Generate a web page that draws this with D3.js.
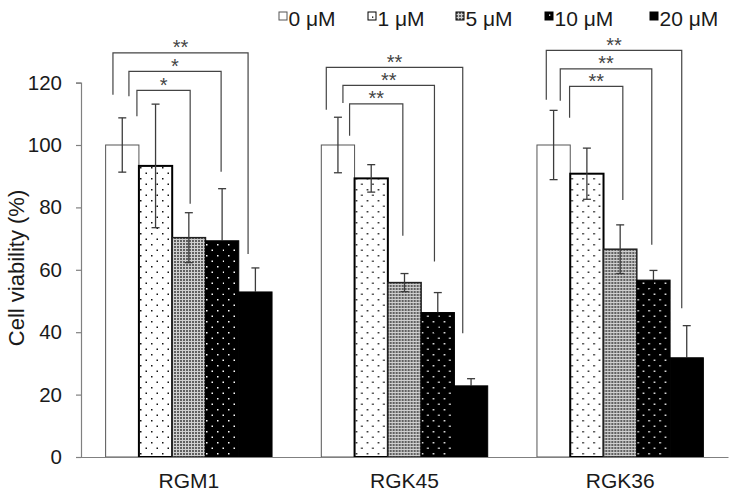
<!DOCTYPE html>
<html><head><meta charset="utf-8">
<script src="https://cdn.jsdelivr.net/npm/d3@7"></script>
<style>body{margin:0;background:#fff}svg{display:block}text{font-family:"Liberation Sans",Arial,sans-serif}</style>
</head><body><svg id="c" width="735" height="496"></svg>
<script>
// ---- data ----
const categories = ["RGM1", "RGK45", "RGK36"];
const seriesNames = ["0 μM", "1 μM", "5 μM", "10 μM", "20 μM"];
const v0  = [100, 100, 100];
const v1  = [93.3, 89.3, 90.8];
const v5  = [70.3, 55.9, 66.6];
const v10 = [69.3, 46.3, 56.7];
const v20 = [52.9, 22.8, 31.8];
const e0  = [8.7, 8.9, 11.1];
const e1  = [19.8, 4.4, 8.2];
const e5  = [8.0, 2.9, 7.8];
const e10 = [16.7, 6.4, 3.1];
const e20 = [7.7, 2.3, 10.3];
const yTicks = [0, 20, 40, 60, 80, 100, 120];
// significance brackets (group, left/right position in bar units, top & leg ends in y units)
const brGroup = [0, 0, 0, 1, 1, 1, 2, 2, 2];
const brLabel = ["*", "*", "**", "**", "**", "**", "**", "**", "**"];
const brLeft  = [0.94, 0.70, 0.22, 0.85, 0.65, 0.15, 0.98, 0.70, 0.28];
const brRight = [2.54, 3.47, 4.28, 2.45, 3.40, 4.25, 2.58, 3.45, 4.35];
const brTop   = [117.5, 123.6, 129.5, 113.2, 119.1, 124.9, 118.8, 124.4, 130.3];
const brLeftEnd  = [109.2, 115.6, 116.1, 103.0, 113.5, 111.3, 108.7, 114.2, 114.5];
const brRightEnd = [81.2, 91.4, 65.1, 70.9, 62.7, 39.7, 82.4, 68.0, 47.7];

const values = [v0, v1, v5, v10, v20];
const errors = [e0, e1, e5, e10, e20];

const svg = d3.select("#c");
const defs = svg.append("defs");
// patterns
const pDot = defs.append("pattern").attr("id","pDots").attr("patternUnits","userSpaceOnUse")
  .attr("width",11).attr("height",11);
pDot.append("rect").attr("width",11).attr("height",11).attr("fill","#fff");
pDot.append("rect").attr("x",4).attr("y",2).attr("width",1.5).attr("height",1.5).attr("fill","#111");
pDot.append("rect").attr("x",9.5).attr("y",7.5).attr("width",1.5).attr("height",1.5).attr("fill","#111");
const pMesh = defs.append("pattern").attr("id","pMesh").attr("patternUnits","userSpaceOnUse")
  .attr("width",3).attr("height",3);
pMesh.append("rect").attr("width",3).attr("height",3).attr("fill","#cfcfcf");
pMesh.append("rect").attr("width",2).attr("height",2).attr("fill","#606060");
const pWDot = defs.append("pattern").attr("id","pWDots").attr("patternUnits","userSpaceOnUse")
  .attr("width",11).attr("height",11);
pWDot.append("rect").attr("width",11).attr("height",11).attr("fill","#000");
pWDot.append("rect").attr("x",4).attr("y",2).attr("width",1.5).attr("height",1.5).attr("fill","#fff");
pWDot.append("rect").attr("x",9.5).attr("y",7.5).attr("width",1.5).attr("height",1.5).attr("fill","#fff");

const fills = ["#fff", "url(#pDots)", "url(#pMesh)", "url(#pWDots)", "#000"];
const strokes = ["#555", "#000", "#222", "#000", "#000"];
const strokeW = [1, 2, 1.5, 1, 1];

const x = d3.scaleBand().domain(categories).range([81, 728]).paddingInner(0).paddingOuter(0);
const xi = d3.scaleBand().domain(d3.range(seriesNames.length)).range([0, x.bandwidth()]).paddingInner(0).paddingOuter(0.74);
const y = d3.scaleLinear().domain([0, 120]).range([457, 82.6]);

// axes
const yAxis = svg.append("g").attr("transform","translate(81,0)")
  .call(d3.axisLeft(y).tickValues(yTicks).tickSize(5).tickPadding(14));
yAxis.select(".domain").attr("stroke","#808080").attr("stroke-width",1.2);
yAxis.selectAll(".tick line").attr("stroke","#808080").attr("stroke-width",1.2);
yAxis.selectAll(".tick text").attr("font-size",20.5).attr("fill","#1a1a1a")
  .style("font-family","Liberation Sans, Arial, sans-serif");

svg.append("text").attr("transform","translate(24,268) rotate(-90)").attr("text-anchor","middle")
  .attr("font-size",22).attr("fill","#1a1a1a").text("Cell viability (%)");

// bars
categories.forEach((cat, gi) => {
  const g = svg.append("g").attr("transform", `translate(${x(cat)},0)`);
  values.forEach((vals, si) => {
    g.append("rect").attr("x", xi(si)).attr("y", y(vals[gi]))
      .attr("width", xi.bandwidth()).attr("height", y(0) - y(vals[gi]))
      .attr("fill", fills[si]).attr("stroke", strokes[si]).attr("stroke-width", strokeW[si]);
  });
  values.forEach((vals, si) => {
    const cx = xi(si) + xi.bandwidth() / 2;
    const hi = vals[gi] + errors[si][gi], lo = vals[gi] - errors[si][gi];
    const ec = "#3c3c3c";
    const lc = si >= 3 ? "#000" : ec;
    g.append("line").attr("x1",cx).attr("x2",cx).attr("y1",y(hi)).attr("y2",y(vals[gi])).attr("stroke",ec).attr("stroke-width",1.3);
    g.append("line").attr("x1",cx).attr("x2",cx).attr("y1",y(vals[gi])).attr("y2",y(lo)).attr("stroke",lc).attr("stroke-width",1.3);
    g.append("line").attr("x1",cx-4).attr("x2",cx+4).attr("y1",y(hi)).attr("y2",y(hi)).attr("stroke",ec).attr("stroke-width",1.3);
    g.append("line").attr("x1",cx-4).attr("x2",cx+4).attr("y1",y(lo)).attr("y2",y(lo)).attr("stroke",lc).attr("stroke-width",1.3);
  });
});

// x axis line (no ticks)
const xAxis = svg.append("g").attr("transform","translate(0,457)")
  .call(d3.axisBottom(x).tickSize(0).tickPadding(16));
xAxis.select(".domain").attr("stroke","#808080").attr("stroke-width",1.2);
xAxis.selectAll(".tick text").attr("font-size",21).attr("fill","#1a1a1a")
  .style("font-family","Liberation Sans, Arial, sans-serif");

// brackets
brGroup.forEach((gi, i) => {
  const x0 = x(categories[gi]) + xi(0);
  const step = xi.step();
  const xl = x0 + brLeft[i] * step, xr = x0 + brRight[i] * step;
  const yt = y(brTop[i]);
  svg.append("path")
    .attr("d", `M${xl},${y(brLeftEnd[i])}V${yt}H${xr}V${y(brRightEnd[i])}`)
    .attr("fill","none").attr("stroke","#444").attr("stroke-width",1.2);
  svg.append("text").attr("x",(xl+xr)/2).attr("y",yt+1.5).attr("text-anchor","middle")
    .attr("font-size",20).attr("fill","#444").text(brLabel[i]);
});

// legend
const legX = [279, 368, 456, 545, 650];
const legFills = ["#fff", "#fff", "url(#pMesh)", "#000", "#000"];
seriesNames.forEach((nm, si) => {
  const lg = svg.append("g").attr("transform", `translate(${legX[si]},12)`);
  lg.append("rect").attr("width",8).attr("height",8).attr("fill",legFills[si])
    .attr("stroke", si === 0 ? "#555" : "#000").attr("stroke-width",1);
  if (si === 1) lg.append("rect").attr("x",4).attr("y",4.5).attr("width",1.3).attr("height",1.3).attr("fill","#000");
  if (si === 3) lg.append("rect").attr("x",4).attr("y",2.5).attr("width",1.3).attr("height",1.3).attr("fill","#fff");
  lg.append("text").attr("x", 9.5).attr("y", 13.5).attr("font-size",21).attr("fill","#1a1a1a").text(nm);
});
</script></body></html>
